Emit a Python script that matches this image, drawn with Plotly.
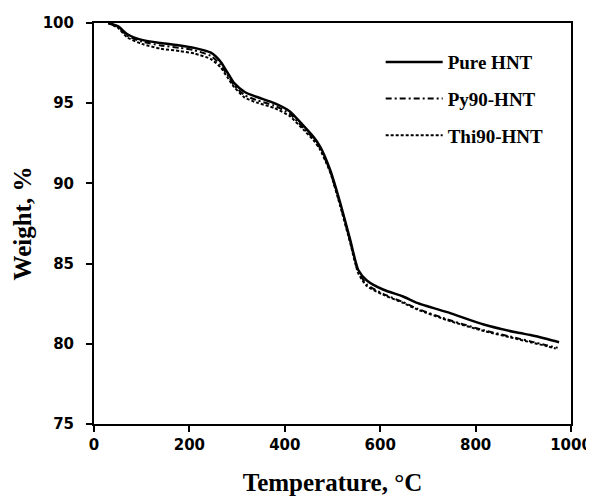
import plotly.graph_objects as go

temp_pure = [30, 50, 70, 100, 140, 180, 210, 245, 265, 280, 294, 316, 340, 378, 410, 439, 460, 474, 495, 516, 537, 554, 572, 607, 648, 677, 748, 817, 887, 915, 950, 975]
w_pure = [100.0, 99.8, 99.3, 98.95, 98.75, 98.6, 98.45, 98.15, 97.6, 96.9, 96.25, 95.7, 95.4, 95.0, 94.5, 93.6, 92.9, 92.3, 90.85, 88.8, 86.5, 84.6, 83.95, 83.37, 82.95, 82.55, 81.9, 81.2, 80.7, 80.55, 80.3, 80.1]

temp_py = [30, 50, 70, 100, 140, 180, 210, 245, 265, 280, 294, 316, 340, 378, 410, 439, 460, 474, 495, 516, 537, 554, 572, 607, 648, 677, 748, 817, 887, 915, 950, 972]
w_py = [100.0, 99.75, 99.2, 98.85, 98.6, 98.45, 98.3, 97.95, 97.4, 96.75, 96.1, 95.5, 95.2, 94.85, 94.35, 93.45, 92.8, 92.2, 90.75, 88.7, 86.4, 84.5, 83.7, 83.1, 82.6, 82.2, 81.45, 80.85, 80.35, 80.15, 79.9, 79.75]

temp_thi = [30, 50, 70, 100, 140, 180, 210, 245, 265, 280, 294, 316, 340, 378, 410, 439, 460, 474, 495, 516, 537, 554, 572, 607, 648, 677, 748, 817, 887, 915, 950, 968]
w_thi = [100.0, 99.7, 99.1, 98.7, 98.4, 98.25, 98.1, 97.75, 97.25, 96.6, 96.0, 95.35, 95.05, 94.7, 94.2, 93.35, 92.7, 92.1, 90.7, 88.6, 86.3, 84.4, 83.6, 83.05, 82.55, 82.15, 81.4, 80.8, 80.3, 80.1, 79.85, 79.7]

x_ticks = [0, 200, 400, 600, 800, 1000]
y_ticks = [75, 80, 85, 90, 95, 100]

fig = go.Figure()
fig.add_trace(go.Scatter(x=temp_pure, y=w_pure, mode="lines", name="Pure HNT", legendgroup="a",
                         line=dict(color="black", width=2.5, shape="spline", smoothing=0.6)))
fig.add_trace(go.Scatter(x=temp_py, y=w_py, mode="lines", name="Py90-HNT", legendgroup="b",
                         line=dict(color="black", width=2, dash="6px,3px,2px,3px", shape="spline", smoothing=0.6)))
fig.add_trace(go.Scatter(x=temp_thi, y=w_thi, mode="lines", name="Thi90-HNT", legendgroup="c",
                         line=dict(color="black", width=2, dash="3px,2px", shape="spline", smoothing=0.6)))

tick_font = dict(family="DejaVu Sans", size=15, color="black", weight="bold")
title_font = dict(family="Liberation Serif", size=25, color="black", weight="bold")

fig.update_layout(
    width=586, height=488,
    margin=dict(l=86, r=23, t=15, b=72),
    paper_bgcolor="white", plot_bgcolor="white",
    showlegend=True,
    legend=dict(x=0.601, y=0.95, xanchor="left", yanchor="top",
                font=dict(family="Liberation Serif", size=19, color="black", weight="bold"),
                bgcolor="rgba(0,0,0,0)", traceorder="grouped", tracegroupgap=9, itemwidth=57),
    xaxis=dict(range=[0, 1000], tickvals=x_ticks, ticktext=[str(v) for v in x_ticks],
               showgrid=False, zeroline=False, showline=True, linecolor="black", linewidth=2,
               mirror=True, ticks="outside", ticklen=6, tickwidth=2, tickcolor="black",
               automargin=False, ticklabeloverflow="allow",
               tickfont=tick_font, title=dict(text="Temperature, °C", font=title_font, standoff=20)),
    yaxis=dict(range=[75, 100], tickvals=y_ticks, ticktext=[str(v) for v in y_ticks],
               showgrid=False, zeroline=False, showline=True, linecolor="black", linewidth=2,
               mirror=True, ticks="outside", ticklen=6, tickwidth=2, tickcolor="black",
               ticklabelstandoff=9, automargin=False,
               tickfont=tick_font, title=dict(text="Weight, %", font=title_font, standoff=4)),
)

fig.write_html("out.html")
